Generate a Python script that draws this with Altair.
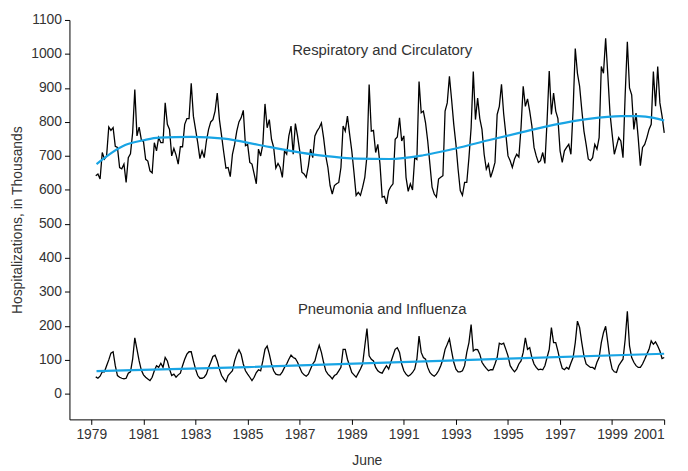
import altair as alt
import pandas as pd

# ---------------- data ----------------
START_YEAR = 1979.17  # first monthly observation (decimal year)

resp_part1 = [642, 647, 632, 710, 691, 700, 785, 775, 783, 728, 725, 666, 662, 676, 622, 695, 706, 768, 895,
              759, 785, 748, 742, 690, 685, 656, 650, 739, 715, 754, 739, 739, 856,
              793, 778, 700, 722, 703, 676, 727, 727, 793, 810, 810, 914,
              817, 778, 739, 692, 715, 695, 744, 778, 800, 807, 832, 885,
              807, 759, 710, 664, 666, 639, 705, 734, 773, 800]
resp_part2 = [812, 834, 730, 734, 681, 676, 647, 618, 720, 700, 734, 853, 783, 807, 749, 725, 664, 678, 666, 637,
              715, 705, 759, 788, 705, 795, 759, 715, 652, 647, 637, 671, 720, 695, 759, 773, 783, 797, 754, 700,
              666, 613, 588, 613, 618, 622, 666, 788, 773, 817, 764, 715, 652, 584, 593, 584, 608, 637, 700, 910,
              773, 775, 710, 734, 676, 579]
resp_part3 = [581, 559, 598, 610, 618, 749, 756, 812, 744, 759, 637, 596, 618, 600, 695, 690,
              919, 827, 832, 797, 744, 676, 608, 588, 579, 632,
              637, 642, 832, 856, 934, 866, 793, 734, 661, 598, 584, 622,
              622, 695, 783, 948, 807, 870, 810, 778, 705, 661, 676,
              637, 657, 681, 822, 846, 911, 824, 764, 700, 686, 666, 691, 705, 697, 783, 905]
resp_part4 = [846, 868, 832, 788, 725, 700, 681, 686, 710, 678, 802, 950, 822, 885, 832, 810, 715, 681, 715, 725,
              734, 705, 836, 1016, 943, 905, 836, 773, 734, 691, 686, 695, 734, 720, 754, 963, 943, 1046, 938, 826,
              764, 705, 729, 754, 744, 695, 880, 1036, 900, 880, 778, 826, 754, 671, 725, 734, 754, 778, 793, 948,
              846, 963, 856, 817, 768]

pneu_part1 = [50, 46, 52, 65, 65, 83, 100, 120, 124, 83, 54, 49, 46, 44, 46, 61, 65, 102, 165, 131,
              97, 70, 56, 49, 44, 39, 49, 68, 83, 78, 90, 78, 107, 97, 73, 54, 58, 49, 56, 61,
              83, 102, 117, 124, 124, 97, 73, 54, 46, 46, 49, 58, 78, 93, 110, 114, 97, 73, 54, 44,
              36, 54, 61, 68, 97, 117, 130, 117, 88, 68, 58, 49, 39, 49, 63, 71, 68, 97, 131, 141,
              117, 88, 68, 58, 56, 56, 65, 78]
pneu_part2 = [88, 102, 114, 107, 104, 93, 78, 63, 56, 52, 58, 73, 88, 97, 122, 143, 122, 93, 68, 58,
              52, 44, 54, 58, 68, 78, 131, 131, 102, 83, 63, 56, 49, 61, 73, 88, 141, 192, 112, 102,
              97, 78, 68, 63, 61, 73, 83, 73, 93, 112, 131, 136, 122, 88, 68, 58, 52, 56, 63, 73,
              102, 170, 122, 107, 102, 78, 63, 56, 52, 58, 68, 83, 102, 131, 146, 162, 126, 93, 73, 65,
              65, 68, 83, 122, 151, 204, 126]
pneu_part3 = [131, 130, 117, 93, 83, 75, 68, 71, 71, 88, 107, 149, 146, 149, 131, 112, 83, 73, 65, 73,
              88, 97, 122, 165, 131, 136, 107, 88, 78, 71, 73, 71, 83, 107, 131, 195, 151, 151, 126, 97,
              75, 71, 78, 73, 91, 107, 151, 214, 195, 151, 112, 88, 83, 78, 78, 73, 93, 107, 151, 180,
              199, 151, 102, 73, 65, 63, 83, 93, 102, 160, 243, 141, 107, 93, 83, 78, 78, 88, 102, 117,
              131, 156, 146, 153, 141, 126, 104, 107]

resp_trend_year = [1979.2, 1980.3, 1981.0, 1981.6, 1982.85, 1984.1, 1985.4, 1986.65, 1987.95, 1989.2,
                   1990.45, 1991.75, 1993.0, 1994.25, 1995.55, 1996.8, 1998.1, 1999.35, 2000.0, 2000.6, 2001.0]
resp_trend_val = [676, 732, 746, 754, 756, 751, 733, 715, 700, 692,
                  691, 702, 722, 746, 770, 792, 809, 817, 817, 812, 804]
pneu_trend_year = [1979.2, 1985.0, 1990.0, 1995.0, 2001.0]
pneu_trend_val = [67, 79, 91, 104, 118]

label_text = ["Respiratory and Circulatory", "Pneumonia and Influenza"]
label_year = [1990.17, 1990.17]
label_val = [1012, 249]

x_ticks = [1979, 1981, 1983, 1985, 1987, 1989, 1991, 1993, 1995, 1997, 1999, 2001]
y_ticks = [0, 100, 200, 300, 400, 500, 600, 700, 800, 900, 1000, 1100]

# ---------------- tables ----------------
resp = resp_part1 + resp_part2 + resp_part3 + resp_part4
pneu = pneu_part1 + pneu_part2 + pneu_part3
rows = []
for k, v in enumerate(resp):
    rows.append({"year": START_YEAR + k / 12.0, "value": v, "series": "resp"})
for k, v in enumerate(pneu):
    rows.append({"year": START_YEAR + k / 12.0, "value": v, "series": "pneu"})
df = pd.DataFrame(rows)

trend_rows = []
for yv, v in zip(resp_trend_year, resp_trend_val):
    trend_rows.append({"year": yv, "value": v, "series": "resp"})
for yv, v in zip(pneu_trend_year, pneu_trend_val):
    trend_rows.append({"year": yv, "value": v, "series": "pneu"})
tdf = pd.DataFrame(trend_rows)

ldf = pd.DataFrame({"year": label_year, "value": label_val, "text": label_text})

FONT = "Liberation Sans"
xs = alt.Scale(domain=[1978.16, 2001], nice=False, zero=False)
ys = alt.Scale(domain=[-75, 1100], nice=False, zero=False)

x_axis = alt.Axis(values=x_ticks, format="d", title="June", grid=False, tickSize=5,
                  labelPadding=3, titlePadding=13)
y_axis = alt.Axis(values=y_ticks, format="d", title="Hospitalizations, in Thousands", grid=False,
                  tickSize=5, labelPadding=3, titlePadding=6)

X = alt.X("year:Q", scale=xs, axis=x_axis)
Y = alt.Y("value:Q", scale=ys, axis=y_axis)

base_lines = alt.Chart(df).mark_line(color="black", strokeWidth=1.3).encode(
    x=X, y=Y, detail="series:N",
)

trend = alt.Chart(tdf).mark_line(color="#18a4e4", strokeWidth=2.2, interpolate="monotone").encode(
    x=X, y=Y, detail="series:N",
)

labels = alt.Chart(ldf).mark_text(font=FONT, fontSize=15, color="#333333", align="center",
                                  baseline="middle").encode(
    x=X, y=Y, text="text:N",
)

chart = alt.layer(base_lines, trend, labels).properties(
    width=600,
    height=403,
    padding={"left": 62, "top": 10, "right": 16, "bottom": 50},
    autosize=alt.AutoSizeParams(type="none"),
).configure_view(stroke=None).configure_axis(
    domainColor="black",
    tickColor="black",
    labelColor="#333333",
    titleColor="#333333",
    labelFont=FONT,
    titleFont=FONT,
    labelFontSize=14,
    titleFontSize=14,
    titleFontWeight="normal",
)

chart.save("out.html", embed_options={"renderer": "svg", "actions": False})
